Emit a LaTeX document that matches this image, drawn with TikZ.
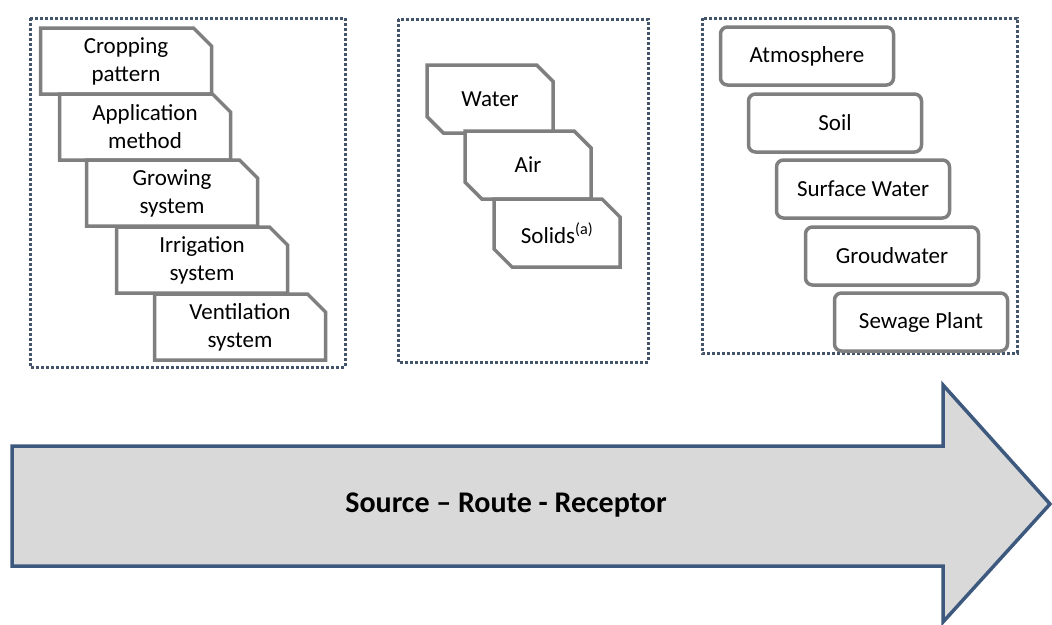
\documentclass[tikz,border=0pt]{standalone}
\usepackage{fontspec}
\setmainfont{Carlito}
\usepackage{tikz}
\usetikzlibrary{shapes.misc}
\definecolor{boxgray}{HTML}{7F7F7F}
\definecolor{dotblue}{HTML}{44546A}
\definecolor{arrowblue}{HTML}{3D5A7E}
\definecolor{arrowfill}{HTML}{D9D9D9}
\tikzset{
  groupframe/.style={draw=dotblue,line width=3pt,dash pattern=on 3pt off 2pt},
  srcbox/.style={chamfered rectangle,chamfered rectangle corners={north east},
    chamfered rectangle xsep=9pt,chamfered rectangle ysep=9pt,
    draw=boxgray,fill=white,line width=3.5pt,inner sep=0pt,
    minimum width=171pt,minimum height=66pt,align=center,
    font=\fontsize{23}{28}\selectfont},
  routebox/.style={srcbox,chamfered rectangle corners={north east,south west},
    minimum width=126pt,minimum height=68pt},
  recbox/.style={rectangle,rounded corners=7pt,draw=boxgray,fill=white,
    line width=3.5pt,inner sep=0pt,minimum width=173pt,minimum height=58pt,
    font=\fontsize{23}{28}\selectfont}
}
\begin{document}
\begin{tikzpicture}[x=1pt,y=-1pt]
  \useasboundingbox (0,0) rectangle (1052,624);
  % dotted groups
  \draw[groupframe] (30,18) rectangle (345,367);
  \draw[groupframe] (398,19) rectangle (648,362);
  \draw[groupframe] (702,18) rectangle (1017,353);
  % source
  \node[srcbox] (11) at (126,61) {Cropping\\pattern};
  \node[srcbox] (12) at (145,127) {Application\\method};
  \node[srcbox] (13) at (172,193) {Growing\\system};
  \node[srcbox] (14) at (202,260) {Irrigation\\system};
  \node[srcbox] (15) at (240,327) {Ventilation\\system};
  % route
  \node[routebox] (21) at (490,99) {Water};
  \node[routebox] (22) at (528,165) {Air};
  \node[routebox] (23) at (557,233) {Solids\textsuperscript{(a)}};
  % receptor
  \node[recbox] (31) at (807,56) {Atmosphere};
  \node[recbox] (32) at (835,123) {Soil};
  \node[recbox] (33) at (863,189) {Surface Water};
  \node[recbox] (34) at (892,256) {Groudwater};
  \node[recbox] (35) at (921,322) {Sewage Plant};
  % big arrow
  \draw[draw=arrowblue,fill=arrowfill,line width=3.5pt,line join=miter]
    (12,446) -- (943,446) -- (943,385) -- (1050,504) -- (943,622)
    -- (943,566) -- (12,566) -- cycle;
  \node[font=\fontsize{30}{34}\selectfont\bfseries] (srr) at (506,505)
    {Source -- Route - Receptor};
\end{tikzpicture}
\end{document}
